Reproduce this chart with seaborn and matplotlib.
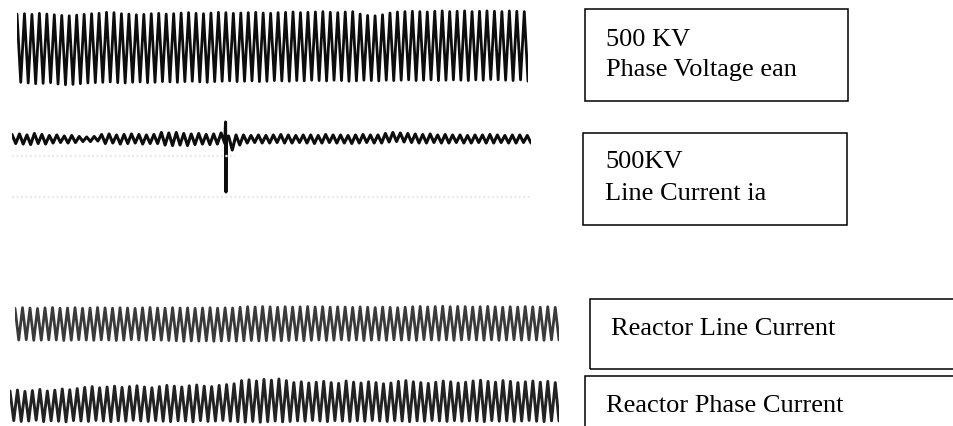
import numpy as np
import pandas as pd
import seaborn as sns
import matplotlib.pyplot as plt
from matplotlib.patches import Rectangle

W, H = 954, 427

# peak / trough of every cycle, per unit of each trace
ean_top = [0.97, 0.98, 0.96, 0.99, 0.97, 0.95, 0.93, 0.92, 0.94, 0.96,
           0.98, 0.99, 1.02, 1.01, 0.98, 0.97, 0.95, 0.96, 0.98, 0.99,
           0.97, 0.98, 1.00, 1.01, 0.99, 0.98, 1.00, 1.02, 1.01, 0.99,
           1.00, 1.01, 1.02, 1.00, 0.99, 1.01, 1.02, 1.03, 1.01, 1.02,
           1.03, 1.04, 1.02, 1.01, 1.03, 1.04, 0.97, 0.93, 0.92, 0.95,
           1.00, 1.03, 1.04, 1.05, 1.04, 1.03, 1.05, 1.06, 1.04, 1.05,
           1.06, 1.04, 1.05, 1.06, 1.05, 1.04, 1.06, 1.05, 1.04]
ean_bot = [-0.98, -1.00, -1.02, -1.01, -0.99, -1.03, -1.05, -1.04, -1.02, -1.00,
           -0.99, -0.98, -0.97, -0.99, -1.00, -0.98, -0.97, -0.99, -0.98, -0.96,
           -0.97, -0.98, -0.96, -0.95, -0.97, -0.98, -0.96, -0.95, -0.94, -0.96,
           -0.95, -0.94, -0.96, -0.95, -0.93, -0.94, -0.95, -0.93, -0.94, -0.92,
           -0.93, -0.94, -0.92, -0.93, -0.95, -0.94, -0.92, -0.93, -0.94, -0.92,
           -0.93, -0.92, -0.91, -0.93, -0.92, -0.91, -0.93, -0.92, -0.91, -0.92,
           -0.93, -0.91, -0.92, -0.90, -0.91, -0.92, -0.93, -0.91, -0.95]

ia_top = [0.9, 1.0, 0.8, 1.1, 0.9,
          0.7, 0.8, 0.6, 0.7,
          0.5, 0.4, 0.5,
          0.9, 1.0, 0.8, 0.9, 1.0, 0.9, 0.8, 0.9,
          1.3, 1.2, 1.3, 1.1,
          1.0, 1.1, 0.9, 1.0, 1.2,
          0.6, 0.8,
          0.8, 0.7, 0.8, 0.7, 0.8, 0.9, 0.8, 0.7, 0.8, 0.8,
          0.7, 0.9, 0.8, 0.8, 0.7, 0.8, 0.9, 0.8, 0.8,
          1.1, 1.3, 1.2, 1.1, 1.0, 0.9, 1.0,
          0.8, 0.9, 0.8, 0.8, 0.7, 0.8, 0.8, 0.9, 0.8, 0.7, 0.8, 0.8, 0.7]
ia_bot = [-0.9, -1.0, -1.1, -0.9, -1.0,
          -0.8, -0.7, -0.8, -0.7,
          -0.5, -0.5, -0.4,
          -0.9, -0.8, -1.0, -0.9, -0.8, -1.0, -0.9, -0.9,
          -1.2, -1.3, -1.2, -1.3,
          -1.1, -1.0, -1.1, -1.0, -0.9,
          -2.2, -1.2,
          -0.8, -0.7, -0.8, -0.8, -0.7, -0.8, -0.8, -0.7, -0.8, -0.9,
          -0.8, -0.7, -0.8, -0.8, -0.9, -0.8, -0.7, -0.8, -0.8,
          -0.6, -0.5, -0.6, -0.7, -0.8, -0.8, -0.7,
          -0.8, -0.8, -0.7, -0.8, -0.8, -0.7, -0.8, -0.8, -0.7, -0.8, -0.8, -0.7, -0.8]
# switching transient on the line current
ia_spike_t = [28.85, 28.90, 28.95]
ia_spike_v = [3.4, -10.6, 0.4]

il_top = [0.98, 1.02, 1.00, 0.97, 1.01, 1.03, 0.99, 1.00, 1.02, 0.98,
          1.00, 1.03, 1.01, 0.99, 1.02, 1.00, 0.98, 1.01, 1.03, 1.00,
          0.99, 1.02, 1.00, 1.01, 0.98, 1.00, 1.02, 0.99, 1.01, 1.00,
          1.05, 1.08, 1.06, 1.09, 1.07, 1.05, 1.08, 1.06, 1.07, 1.09,
          1.06, 1.08, 1.05, 1.07, 1.06, 1.04, 1.07, 1.05, 1.03, 1.06,
          1.04, 1.02, 1.05, 1.08, 1.10, 1.07, 1.09, 1.11, 1.08, 1.10,
          1.09, 1.06, 1.08, 1.10, 1.07, 1.05, 1.08, 1.06, 1.09, 1.07,
          1.05, 1.08, 1.04]
il_bot = [-1.00, -0.98, -1.02, -1.01, -0.99, -1.00, -1.03, -1.01, -0.98, -1.00,
          -1.02, -0.99, -1.00, -1.03, -1.01, -0.98, -1.00, -1.02, -0.99, -1.01,
          -1.03, -1.05, -1.08, -1.06, -1.07, -1.05, -1.08, -1.06, -1.04, -1.07,
          -1.05, -1.03, -1.06, -1.04, -1.02, -1.05, -1.03, -1.01, -1.04, -1.02,
          -1.00, -1.03, -1.01, -0.99, -1.02, -1.00, -1.03, -1.01, -1.00, -1.02,
          -0.99, -1.01, -1.00, -1.02, -0.98, -1.00, -1.01, -0.99, -1.02, -1.00,
          -0.98, -1.00, -1.01, -0.99, -1.02, -1.00, -0.98, -1.01, -0.99, -1.00,
          -1.02, -0.99, -1.00]

ip_top = [0.50, 0.55, 0.48, 0.52, 0.58, 0.50, 0.54, 0.60, 0.56, 0.62,
          0.68, 0.72, 0.66, 0.70, 0.74, 0.68, 0.72, 0.76, 0.70, 0.66,
          0.72, 0.78, 0.74, 0.70, 0.76, 0.80, 0.74, 0.72, 0.78, 0.82, 0.86,
          1.02, 1.06, 1.00, 1.08, 1.04, 1.10, 1.02,
          0.92, 0.96, 0.90, 0.94, 0.98, 0.92, 0.88, 1.00, 0.94, 0.90, 0.96, 0.92,
          0.86, 0.90, 0.98, 1.02, 0.96, 0.92, 0.88, 0.94, 1.00, 0.96, 0.90, 0.94,
          1.00, 1.04, 0.98, 0.94, 1.02, 0.98, 0.92, 0.96, 1.00, 0.94, 0.98, 0.92]
ip_bot = [-0.98, -1.02, -1.00, -0.96, -1.03, -0.99, -1.01, -1.04, -0.98, -1.00,
          -1.02, -0.97, -1.00, -1.03, -0.99, -1.01, -0.96, -1.00, -1.02, -0.98,
          -1.01, -1.03, -0.99, -1.00, -1.04, -0.98, -1.02, -1.00, -0.97, -1.01, -1.03,
          -1.05, -1.02, -1.06, -1.03, -1.00, -1.04, -1.02,
          -0.99, -1.01, -0.97, -1.00, -1.03, -0.98, -1.00, -1.02, -0.99, -1.01, -0.97, -1.00,
          -1.02, -0.98, -1.00, -1.03, -0.99, -1.01, -0.97, -1.00, -1.02, -0.98, -1.01, -0.99,
          -1.00, -1.03, -0.98, -1.01, -0.99, -1.02, -1.00, -0.97, -1.01, -1.03, -0.99, -1.00]

labels = [["500 KV", "Phase Voltage ean"],
          ["500KV", "Line Current ia"],
          ["Reactor Line Current"],
          ["Reactor Phase Current"]]


def trace_frame(top, bot, extra_t=(), extra_v=()):
    n = len(top)
    t = np.column_stack([np.arange(n) + 0.25, np.arange(n) + 0.75]).ravel()
    v = np.column_stack([top, bot]).ravel()
    df = pd.DataFrame({"t": np.concatenate([t, extra_t]),
                       "v": np.concatenate([v, extra_v])})
    return df.sort_values("t").reset_index(drop=True)


def trace_axes(fig, left, right, cy, ppu, half=60):
    # axes placed in pixel terms: left/right edge, centre line, pixels per unit
    ax = fig.add_axes([left / W, 1 - (cy + half) / H, (right - left) / W, 2 * half / H])
    ax.set_ylim(-half / ppu, half / ppu)
    return ax


def draw_trace(fig, df, left, right, cy, ppu, color, lw):
    ax = trace_axes(fig, left, right, cy, ppu)
    sns.lineplot(data=df, x="t", y="v", ax=ax, sort=False, estimator=None,
                 color=color, linewidth=lw, legend=False)
    ax.set_xlim(df["t"].min(), df["t"].max())
    ax.set_axis_off()
    return ax


def frame(fig, x0, y0, x1, y1):
    fig.add_artist(Rectangle((x0 / W, 1 - y1 / H), (x1 - x0) / W, (y1 - y0) / H,
                             transform=fig.transFigure, fill=False,
                             lw=1.1, ec="black", clip_on=False))


sns.set_style("white")
plt.rcParams["font.family"] = ["Liberation Serif", "DejaVu Serif"]
plt.rcParams["text.color"] = "black"

fig = plt.figure(figsize=(W / 100, H / 100), dpi=100)

draw_trace(fig, trace_frame(ean_top, ean_bot), 17, 528, 49, 35, "#0d0d0d", 2.0)
ax_ia = draw_trace(fig, trace_frame(ia_top, ia_bot, ia_spike_t, ia_spike_v),
                   12, 531, 140, 5, "#0d0d0d", 2.2)
# faint ghost traces left on the scan below the line current
ax_ia.axhline(-3.4, xmin=0.0, xmax=0.43, color="#ececec", lw=1.6, ls=(0, (1, 1)))
ax_ia.axhline(-11.6, color="#ebebeb", lw=1.6, ls=(0, (1, 1)))
draw_trace(fig, trace_frame(il_top, il_bot), 15, 559, 325, 16, "#3a3a3a", 2.0)
draw_trace(fig, trace_frame(ip_top, ip_bot), 10, 559, 402, 20, "#222222", 2.1)

# label boxes
frame(fig, 585, 10, 848, 102)
frame(fig, 583, 134, 847, 226)
frame(fig, 590, 300, 962, 370)
frame(fig, 585, 377, 962, 432)

text_pos = [[(606, 46), (606, 76)],
            [(605, 168), (605, 200)],
            [(611, 335)],
            [(606, 412)]]
for lines, spots in zip(labels, text_pos):
    for s, (x, y) in zip(lines, spots):
        fig.text(x / W, 1 - y / H, s, ha="left", va="baseline", fontsize=19,
                 color="black")

fig.savefig("out.png", dpi=100)
plt.close(fig)
